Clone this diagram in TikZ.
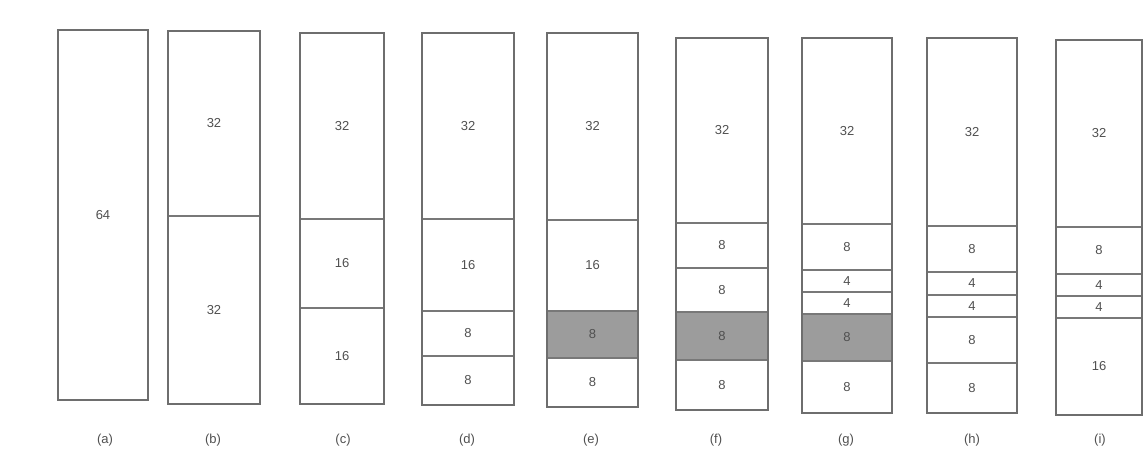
\documentclass[tikz,border=0pt]{standalone}
\usepackage{fontspec}
\setmainfont{Liberation Sans}
\definecolor{edge}{HTML}{6E6E6E}
\definecolor{divc}{HTML}{787878}
\definecolor{shade}{HTML}{9C9C9C}
\definecolor{txt}{HTML}{505050}
\tikzset{
  blk/.style={draw=divc, line width=1.4pt, inner sep=0pt, text=txt, font=\fontsize{13}{15}\selectfont},
  used/.style={fill=shade},
  outer/.style={draw=edge, line width=2.2pt, inner sep=0pt},
  caplabel/.style={text=txt, font=\fontsize{13}{15}\selectfont},
}
% \blk[style]{name}{x1}{x2}{y1}{y2}{label}
\newcommand\blk[7][]{%
  \node[blk,#1, minimum width={(#4-#3)*1pt}, minimum height={(#6-#5)*1pt}]
    (#2) at ({(#3+#4)/2},{(#5+#6)/2}) {#7};}
\newcommand\outerbox[5]{%
  \node[outer, minimum width={(#3-#2)*1pt}, minimum height={(#5-#4)*1pt}]
    (#1) at ({(#2+#3)/2},{(#4+#5)/2}) {};}
\begin{document}
\begin{tikzpicture}[x=1pt,y=-1pt]
\useasboundingbox (0,0) rectangle (1144,459);
% (a)
\blk{a1}{58}{148}{30}{400}{64}
\outerbox{ca}{58}{148}{30}{400}
\node[caplabel] (la) at (105,440) {(a)};
% (b)
\blk{b1}{168}{260}{31}{216}{32}
\blk{b2}{168}{260}{216}{404}{32}
\outerbox{cb}{168}{260}{31}{404}
\node[caplabel] (lb) at (213,440) {(b)};
% (c)
\blk{c1}{300}{384}{33}{219}{32}
\blk{c2}{300}{384}{219}{308}{16}
\blk{c3}{300}{384}{308}{404}{16}
\outerbox{cc}{300}{384}{33}{404}
\node[caplabel] (lc) at (343,440) {(c)};
% (d)
\blk{d1}{422}{514}{33}{219}{32}
\blk{d2}{422}{514}{219}{311}{16}
\blk{d3}{422}{514}{311}{356}{8}
\blk{d4}{422}{514}{356}{405}{8}
\outerbox{cd}{422}{514}{33}{405}
\node[caplabel] (ld) at (467,440) {(d)};
% (e)
\blk{e1}{547}{638}{33}{220}{32}
\blk{e2}{547}{638}{220}{311}{16}
\blk[used]{e3}{547}{638}{311}{358}{8}
\blk{e4}{547}{638}{358}{407}{8}
\outerbox{ce}{547}{638}{33}{407}
\node[caplabel] (le) at (591,440) {(e)};
% (f)
\blk{f1}{676}{768}{38}{223}{32}
\blk{f2}{676}{768}{223}{268}{8}
\blk{f3}{676}{768}{268}{312}{8}
\blk[used]{f4}{676}{768}{312}{360}{8}
\blk{f5}{676}{768}{360}{410}{8}
\outerbox{cf}{676}{768}{38}{410}
\node[caplabel] (lf) at (716,440) {(f)};
% (g)
\blk{g1}{802}{892}{38}{224}{32}
\blk{g2}{802}{892}{224}{270}{8}
\blk{g3}{802}{892}{270}{292}{4}
\blk{g4}{802}{892}{292}{314}{4}
\blk[used]{g5}{802}{892}{314}{361}{8}
\blk{g6}{802}{892}{361}{413}{8}
\outerbox{cg}{802}{892}{38}{413}
\node[caplabel] (lg) at (846,440) {(g)};
% (h)
\blk{h1}{927}{1017}{38}{226}{32}
\blk{h2}{927}{1017}{226}{272}{8}
\blk{h3}{927}{1017}{272}{295}{4}
\blk{h4}{927}{1017}{295}{317}{4}
\blk{h5}{927}{1017}{317}{363}{8}
\blk{h6}{927}{1017}{363}{413}{8}
\outerbox{ch}{927}{1017}{38}{413}
\node[caplabel] (lh) at (972,440) {(h)};
% (i)
\blk{i1}{1056}{1142}{40}{227}{32}
\blk{i2}{1056}{1142}{227}{274}{8}
\blk{i3}{1056}{1142}{274}{296}{4}
\blk{i4}{1056}{1142}{296}{318}{4}
\blk{i5}{1056}{1142}{318}{415}{16}
\outerbox{ci}{1056}{1142}{40}{415}
\node[caplabel] (li) at (1100,440) {(i)};
\end{tikzpicture}
\end{document}
